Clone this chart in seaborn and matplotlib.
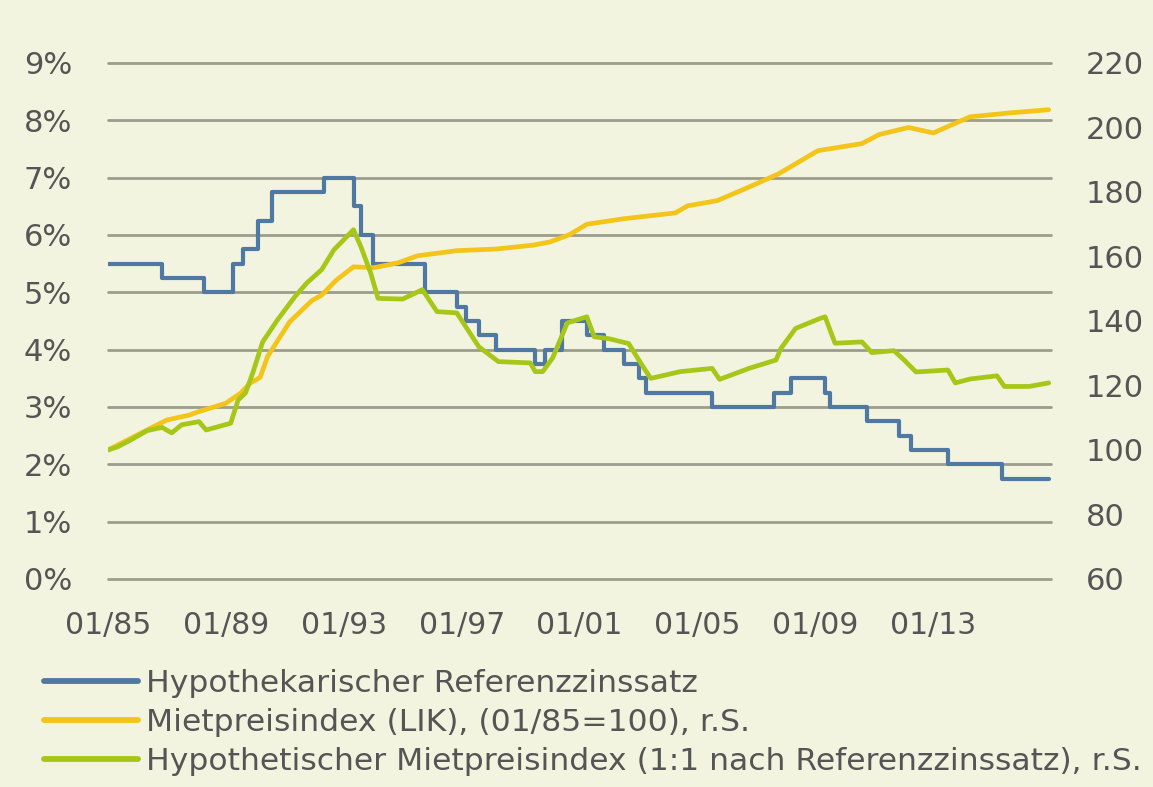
import pandas as pd
import matplotlib
matplotlib.use("Agg")
import matplotlib.pyplot as plt
import matplotlib.dates as mdates
import matplotlib.ticker as mticker
import seaborn as sns

# -------------------- Data --------------------
# Hypothekarischer Referenzzinssatz: change dates and new level (in %)
rate_dates = ['1985-01', '1986-11', '1988-04', '1989-04', '1989-08', '1990-02', '1990-08',
              '1992-05', '1993-05', '1993-08', '1994-01', '1995-10', '1996-11', '1997-03',
              '1997-08', '1998-03', '1999-07', '1999-11', '2000-06', '2001-04', '2001-11',
              '2002-07', '2003-01', '2003-04', '2005-07', '2007-08', '2008-03', '2009-05',
              '2009-07', '2010-10', '2011-11', '2012-04', '2013-07', '2015-05', '2016-12']
rate_values = [5.5, 5.25, 5.0, 5.5, 5.75, 6.25, 6.75,
               7.0, 6.5, 6.0, 5.5, 5.0, 4.75, 4.5,
               4.25, 4.0, 3.75, 4.0, 4.5, 4.25, 4.0,
               3.75, 3.5, 3.25, 3.0, 3.25, 3.5, 3.25,
               3.0, 2.75, 2.5, 2.25, 2.0, 1.75, 1.75]

# Mietpreisindex (LIK), 01/85 = 100
lik_dates = ['1985-01', '1986-07', '1987-01', '1987-10', '1988-02', '1989-01', '1989-07',
             '1989-11', '1990-03', '1990-06', '1991-03', '1991-12', '1992-04', '1992-10',
             '1993-05', '1994-01', '1994-11', '1995-07', '1996-11', '1998-03', '1999-06',
             '2000-01', '2000-09', '2001-04', '2002-07', '2004-04', '2004-09', '2005-09',
             '2006-09', '2007-10', '2009-02', '2010-08', '2011-03', '2012-03', '2013-01',
             '2014-04', '2015-08', '2016-12']
lik_values = [100, 107, 109.3, 110.8, 111.9, 114.5, 117.6,
              120.8, 122.5, 129, 139.7, 146.3, 148, 152.7,
              156.8, 156.5, 158, 160.2, 161.8, 162.3, 163.5,
              164.5, 166.8, 170, 171.7, 173.5, 175.7, 177.3,
              181.2, 185.6, 192.8, 195, 197.8, 200, 198.3,
              203.3, 204.5, 205.5]

# Hypothetischer Mietpreisindex (1:1 nach Referenzzinssatz)
hyp_dates = ['1985-01', '1985-05', '1985-10', '1986-05', '1986-11', '1987-03', '1987-07',
             '1988-02', '1988-05', '1989-03', '1989-06', '1989-09', '1989-12', '1990-04',
             '1990-10', '1991-05', '1991-10', '1992-04', '1992-09', '1993-01', '1993-05',
             '1993-08', '1993-12', '1994-03', '1995-01', '1995-09', '1996-03', '1996-11',
             '1997-08', '1998-04', '1999-05', '1999-07', '1999-10', '2000-02', '2000-08',
             '2001-04', '2001-07', '2002-01', '2002-09', '2003-02', '2003-06', '2004-06',
             '2005-07', '2005-10', '2006-10', '2007-09', '2007-11', '2008-05', '2009-03',
             '2009-05', '2009-09', '2010-08', '2010-12', '2011-09', '2012-01', '2012-06',
             '2013-07', '2013-10', '2014-04', '2015-03', '2015-06', '2016-04', '2016-12']
hyp_values = [100, 101, 103, 106, 107, 105.3, 107.8,
              108.8, 106.2, 108.3, 115.5, 117.7, 124, 133.5,
              140.3, 147.4, 151.8, 155.9, 162.1, 165.2, 168.3,
              163, 154.8, 147, 146.8, 149.7, 142.9, 142.5,
              132, 127.4, 127, 124.3, 124.3, 128.5, 139.4,
              141.3, 135.1, 134.5, 133, 126.8, 122.2, 124.3,
              125.3, 121.9, 125.3, 127.9, 131.5, 137.7, 140.8,
              141.3, 133.1, 133.5, 130.2, 130.8, 128, 124.2,
              124.8, 120.8, 122, 123, 119.7, 119.7, 120.8]

LABELS = ['Hypothekarischer Referenzzinssatz',
          'Mietpreisindex (LIK), (01/85=100), r.S.',
          'Hypothetischer Mietpreisindex (1:1 nach Referenzzinssatz), r.S.']
COLORS = ['#4f78a2', '#f3c41a', '#a6c618']
BG = '#f2f4df'
GRID = '#9d9d8e'
TEXT = '#555555'

rate = pd.DataFrame({'date': pd.to_datetime(rate_dates), 'value': rate_values})
lik = pd.DataFrame({'date': pd.to_datetime(lik_dates), 'value': lik_values})
hyp = pd.DataFrame({'date': pd.to_datetime(hyp_dates), 'value': hyp_values})

# -------------------- Plot --------------------
sns.set_theme(style='white')
plt.rcParams['font.family'] = ['DejaVu Sans']

fig = plt.figure(figsize=(11.53, 7.87), dpi=100, facecolor=BG)
ax = fig.add_axes([0.0937, 0.2643, 0.818, 0.6557])
ax.set_facecolor(BG)
ax2 = ax.twinx()

sns.lineplot(data=rate, x='date', y='value', ax=ax, color=COLORS[0], lw=3.0,
             drawstyle='steps-post', legend=False)
sns.lineplot(data=lik, x='date', y='value', ax=ax2, color=COLORS[1], lw=3.4, legend=False)
sns.lineplot(data=hyp, x='date', y='value', ax=ax2, color=COLORS[2], lw=3.4, legend=False)

ax.set_xlim(pd.Timestamp('1985-01-01'), pd.Timestamp('2017-01-01'))
ax.set_ylim(0, 9)
ax2.set_ylim(60, 220)
ax.set_yticks(range(0, 10))
ax.yaxis.set_major_formatter(mticker.FuncFormatter(lambda v, p: f'{v:.0f}%'))
ax2.set_yticks(range(60, 221, 20))

ax.set_xticks(pd.to_datetime([f'{y}-01-01' for y in range(1985, 2014, 4)]))
ax.xaxis.set_major_formatter(mdates.DateFormatter('%m/%y'))

ax.grid(axis='y', color=GRID, lw=2.0)
ax.grid(axis='x', visible=False)
for gl in ax.get_ygridlines():
    gl.set_clip_on(False)
ax2.grid(False)
for a in (ax, ax2):
    for s in a.spines.values():
        s.set_visible(False)
    a.set_xlabel('')
    a.set_ylabel('')

ax.tick_params(axis='x', length=7, width=1.5, color=GRID, pad=16, labelsize=21.5, labelcolor=TEXT)
ax.tick_params(axis='y', length=0, pad=26, labelsize=22, labelcolor=TEXT)
ax2.tick_params(axis='y', length=0, pad=25, labelsize=22, labelcolor=TEXT)

handles = [ax.lines[0], ax2.lines[0], ax2.lines[1]]
leg = fig.legend(handles, LABELS, loc='upper left', bbox_to_anchor=(0.038, 0.150),
                 frameon=False, fontsize=22.6, labelcolor=TEXT, handlelength=3.0,
                 handletextpad=0.25, labelspacing=0.32, borderpad=0, borderaxespad=0)
for line in leg.get_lines():
    line.set_linewidth(4.2)

fig.savefig('out.png', dpi=100, facecolor=BG)
